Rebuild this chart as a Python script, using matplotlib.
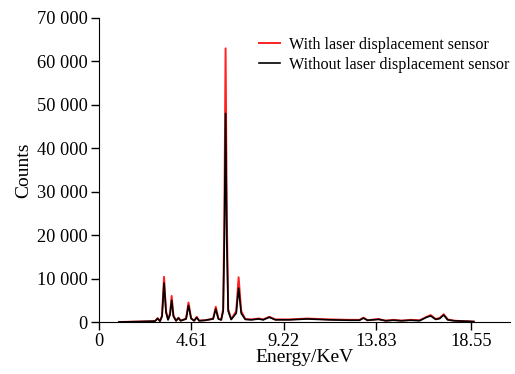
import matplotlib.pyplot as plt
from matplotlib.ticker import FuncFormatter

plt.rcParams['font.family'] = ['Liberation Serif', 'DejaVu Serif']

# 能谱数据
energy = [1.0, 2.0, 2.8, 2.93, 3.05, 3.15, 3.25, 3.35, 3.45, 3.55, 3.63, 3.72,
          3.85, 3.97, 4.08, 4.35, 4.47, 4.6, 4.75, 4.88, 5.0, 5.3, 5.7, 5.83,
          5.96, 6.1, 6.2, 6.26, 6.32, 6.38, 6.45, 6.6, 6.85, 6.97, 7.1, 7.3,
          7.6, 7.97, 8.2, 8.5, 8.8, 9.5, 10.4, 11.5, 12.5, 13.0, 13.2, 13.4,
          13.95, 14.3, 14.7, 15.1, 15.55, 16.0, 16.35, 16.55, 16.8, 17.0, 17.2,
          17.4, 17.7, 18.2, 18.7]
with_sensor = [0, 100, 200, 900, 200, 1500, 10400, 2500, 600, 2000, 6000, 1500,
               300, 1000, 300, 800, 4500, 900, 300, 1200, 300, 400, 800, 3500,
               800, 500, 3000, 25000, 63000, 25000, 3000, 600, 2500, 10300, 2500, 700,
               600, 800, 600, 1200, 600, 600, 800, 600, 500, 500, 1000, 400,
               700, 300, 500, 300, 500, 400, 1200, 1600, 700, 900, 1800,
               600, 300, 200, 100]
without_sensor = [0, 100, 200, 800, 200, 1300, 9000, 2200, 500, 1700, 5000, 1300,
                  300, 900, 300, 700, 3800, 800, 300, 1000, 300, 400, 700, 3000,
                  700, 500, 2500, 19000, 48000, 19000, 2500, 600, 2000, 7800, 2000, 600,
                  500, 700, 500, 1100, 500, 500, 700, 500, 400, 400, 900, 400,
                  600, 300, 400, 300, 400, 300, 1100, 1400, 600, 800, 1600,
                  500, 300, 200, 100]

xticks = [0, 4.61, 9.22, 13.83, 18.55]
yticks = [0, 10000, 20000, 30000, 40000, 50000, 60000, 70000]

fig = plt.figure(figsize=(5.15, 3.74), dpi=100)
ax = fig.add_axes([0.192, 0.139, 0.798, 0.813])

ax.plot(energy, with_sensor, color='#ff2020', linewidth=1.4,
        label='With laser displacement sensor')
ax.plot(energy, without_sensor, color='black', linewidth=1.2,
        label='Without laser displacement sensor')

ax.set_xlim(0, 20.5)
ax.set_ylim(0, 70000)
ax.set_xticks(xticks)
ax.set_xticklabels(['0', '4.61', '9.22', '13.83', '18.55'])
ax.set_yticks(yticks)
ax.yaxis.set_major_formatter(FuncFormatter(lambda v, p: f'{int(v):,}'.replace(',', ' ')))
ax.tick_params(labelsize=13.2, length=6, width=1, direction='out', pad=2)

ax.spines['top'].set_visible(False)
ax.spines['right'].set_visible(False)

ax.set_xlabel('Energy/KeV', fontsize=14, labelpad=-1)
ax.set_ylabel('Counts', fontsize=14, labelpad=3)

ax.legend(loc='upper right', bbox_to_anchor=(1.035, 0.985), frameon=False,
          fontsize=11.6, handlelength=1.3, handletextpad=0.6, labelspacing=0.25)

fig.savefig('out.png', dpi=100)
